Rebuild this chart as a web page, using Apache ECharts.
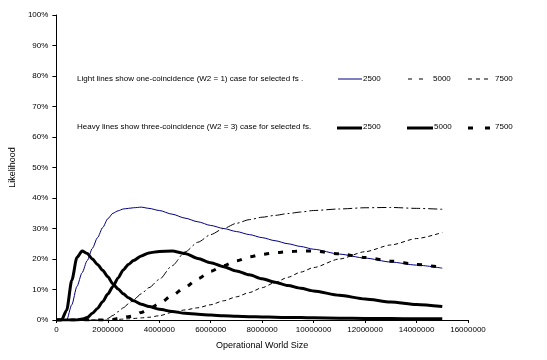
<!DOCTYPE html>
<html><head><meta charset="utf-8">
<script src="https://cdn.jsdelivr.net/npm/echarts@6/dist/echarts.min.js"></script>
<style>html,body{margin:0;padding:0;background:#fff}#c{width:547px;height:360px}</style>
</head><body><div id="c"></div>
<script>
var xs = [0,200000,400000,600000,800000,1000000,1200000,1400000,1600000,1800000,2000000,2200000,2400000,2600000,2800000,3000000,3300000,3600000,4000000,4500000,5000000,5500000,6000000,6500000,7000000,7500000,8000000,8500000,9000000,9500000,10000000,11000000,12000000,13000000,14000000,15000000];
var light2500 = [0,0,0,5,11,15.5,19.5,23.5,27,30.3,33.2,35,35.8,36.4,36.6,36.8,37,36.6,35.9,34.7,33.4,32.2,31,30,29,28,27,26,25,24.1,23.2,21.6,20.3,19,18,17];
var light5000 = [0,0,0,0,0,0,0,0,0,0,0.5,1.5,2.7,4,5.3,6.6,8.6,10.6,13.3,17.8,22.3,25.5,28,30,31.7,32.9,33.7,34.3,34.9,35.4,35.9,36.4,36.8,36.9,36.6,36.3];
var light7500 = [0,0,0,0,0,0,0,0,0,0,0,0.1,0.2,0.3,0.4,0.5,0.7,0.9,1.4,2.5,3.3,4,5,6.3,7.6,9,10.6,12.3,14,15.7,17.2,20,22.4,24.6,26.7,28.7];
var heavy2500 = [0,0,3.2,13,20.5,22.6,21.8,20,18.2,16.3,14.2,11.8,10.2,8.6,7.3,6.3,5.2,4.4,3.5,2.8,2.2,1.9,1.6,1.4,1.2,1.1,1.0,0.9,0.8,0.8,0.7,0.6,0.5,0.5,0.4,0.4];
var heavy5000 = [0,0,0,0,0,0.3,0.8,2.2,3.8,6,8.5,11,13.8,16.4,18.2,19.5,21,22,22.5,22.6,21.8,20.2,18.8,17.5,16.1,14.8,13.5,12.4,11.3,10.4,9.5,8.1,6.9,5.9,5.1,4.4];
var heavy7500 = [0,0,0,0,0,0,0,0,0,0,0,0.2,0.5,0.8,1.1,1.4,2.5,3.6,5.4,8,10.7,13.5,16,17.8,19.4,20.7,21.5,22.1,22.4,22.6,22.6,21.7,20.5,19.3,18.2,17.2];
var legendLabels = ['2500','5000','7500'];
var noteLight = 'Light lines show one-coincidence (W2 = 1) case for selected fs .';
var noteHeavy = 'Heavy lines show three-coincidence (W2 = 3) case for selected fs.';

function pts(ys){ return xs.map(function(x,i){ return [x, ys[i]/100]; }); }
var F = 'Arial, "Liberation Sans", sans-serif';
function ser(ys, color, width, dash){
  return {type:'line', data:pts(ys), symbol:'none', smooth:0.25, smoothMonotone:'x', animation:false,
    lineStyle:{color:color, width:width, type:dash||'solid'}, z: width>2?3:2};
}
function txt(x,y,s){ return {type:'text', left:x, top:y, style:{text:s, font:'8px '+F, fill:'#000'}}; }
function ln(x1,x2,y,color,w,dash){ return {type:'line', shape:{x1:x1,y1:y,x2:x2,y2:y}, style:{stroke:color, lineWidth:w, lineDash:dash||null}}; }

var chart = echarts.init(document.getElementById('c'), null, {renderer:'canvas'});
chart.setOption({
  backgroundColor:'#fff',
  animation:false,
  grid:{left:52, right:79, top:15, bottom:40},
  xAxis:{type:'value', min:0, max:16000000, interval:2000000,
    name:'Operational World Size', nameLocation:'middle', nameGap:21,
    nameTextStyle:{fontFamily:F, fontSize:9, color:'#000'},
    axisLine:{lineStyle:{color:'#000', width:1}},
    axisTick:{show:true, inside:false, length:3, lineStyle:{color:'#000'}},
    axisLabel:{fontFamily:F, fontSize:8, color:'#000', margin:6,
      formatter:function(v){ return String(v); }},
    splitLine:{show:false}},
  yAxis:{type:'value', min:0, max:1, interval:0.1,
    name:'Likelihood', nameLocation:'middle', nameGap:31, nameRotate:90,
    nameTextStyle:{fontFamily:F, fontSize:9, color:'#000'},
    axisLine:{show:true, lineStyle:{color:'#000', width:1}},
    axisTick:{show:true, inside:false, length:4, lineStyle:{color:'#000'}},
    axisLabel:{fontFamily:F, fontSize:8, color:'#000', margin:8,
      formatter:function(v){ return Math.round(v*100)+'%'; }},
    splitLine:{show:false}},
  series:[
    ser(light2500,'#000080',1),
    ser(light5000,'#000',1,[9,3,2,3]),
    ser(light7500,'#000',1,[4,3]),
    ser(heavy2500,'#000',3),
    ser(heavy5000,'#000',3),
    ser(heavy7500,'#000',3,[5,9])
  ],
  graphic:[
    txt(77,75,noteLight),
    txt(77,123,noteHeavy),
    ln(338,362,79,'#000080',1),
    txt(363,75,legendLabels[0]),
    ln(408,423,79,'#000',1,[4,7]),
    txt(433,75,legendLabels[1]),
    ln(468,490,79,'#000',1,[4,4]),
    txt(495,75,legendLabels[2]),
    ln(337,362,128,'#000',3),
    txt(363,123,legendLabels[0]),
    ln(407,433,128,'#000',3),
    txt(434,123,legendLabels[1]),
    ln(468,490,128,'#000',3,[5,12]),
    txt(495,123,legendLabels[2])
  ]
});
</script></body></html>
